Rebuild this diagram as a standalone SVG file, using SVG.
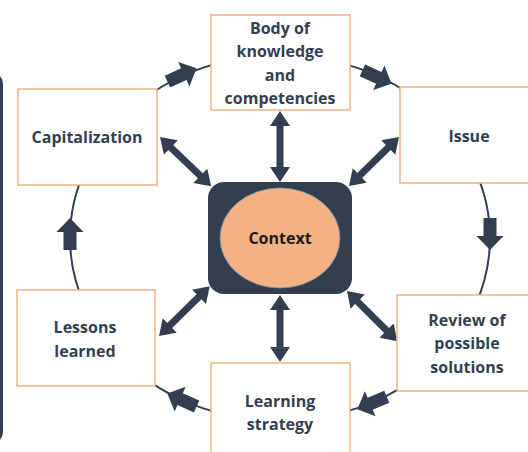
<svg xmlns="http://www.w3.org/2000/svg" width="528" height="452" viewBox="0 0 528 452">
<style>
.box{fill:#fff;stroke:#F4B183;stroke-width:1.5}
.lbl{font-family:"Open Sans","Liberation Sans",sans-serif;font-weight:bold;font-size:16px;fill:#333F50;text-anchor:middle}
.dark{fill:#333F50}
.arc{fill:none;stroke:#333F50;stroke-width:2}
</style>
<defs>
<path id="fat" d="M-16,-6.5 L2,-6.5 L2,-13.5 L16,0 L2,13.5 L2,6.5 L-16,6.5 Z"/>
</defs>
<rect width="528" height="452" fill="#fff"/>
<rect x="-20" y="72" width="23" height="372" rx="12" class="dark"/>
<g id="connectors">
<ellipse cx="280" cy="238" rx="210" ry="183" class="arc"/>
<use href="#fat" class="dark" transform="translate(182,75) rotate(-24.5)"/>
<use href="#fat" class="dark" transform="translate(377,77) rotate(24.5)"/>
<use href="#fat" class="dark" transform="translate(490,234) rotate(90)"/>
<use href="#fat" class="dark" transform="translate(372,403) rotate(157)"/>
<use href="#fat" class="dark" transform="translate(182,400) rotate(-156)"/>
<use href="#fat" class="dark" transform="translate(70,234) rotate(-90)"/>
<path class="dark" transform="translate(280,111) rotate(90)" d="M0,0 L15,-10 L15,-3.5 L56,-3.5 L56,-10 L71,0 L56,10 L56,3.5 L15,3.5 L15,10 Z"/>
<path class="dark" transform="translate(280,295) rotate(90)" d="M0,0 L15,-10 L15,-3.5 L52,-3.5 L52,-10 L67,0 L52,10 L52,3.5 L15,3.5 L15,10 Z"/>
<path class="dark" transform="translate(160,137) rotate(43.9)" d="M0,0 L15,-10 L15,-3.5 L56,-3.5 L56,-10 L71,0 L56,10 L56,3.5 L15,3.5 L15,10 Z"/>
<path class="dark" transform="translate(349,186) rotate(-44.4)" d="M0,0 L15,-10 L15,-3.5 L55,-3.5 L55,-10 L70,0 L55,10 L55,3.5 L15,3.5 L15,10 Z"/>
<path class="dark" transform="translate(159,336) rotate(-44.4)" d="M0,0 L15,-10 L15,-3.5 L56,-3.5 L56,-10 L71,0 L56,10 L56,3.5 L15,3.5 L15,10 Z"/>
<path class="dark" transform="translate(347,291) rotate(45)" d="M0,0 L15,-10 L15,-3.5 L56,-3.5 L56,-10 L71,0 L56,10 L56,3.5 L15,3.5 L15,10 Z"/>
</g>
<g id="context">
<rect x="208" y="182" width="144" height="112" rx="16" class="dark"/>
<ellipse cx="280" cy="238" rx="60" ry="50" fill="#F4B183" stroke="#6F8FB0" stroke-width="0.8"/>
<text x="280" y="244" class="lbl" style="fill:#1B1B1B">Context</text>
</g>
<g id="body">
<rect x="211" y="15" width="139" height="95" class="box"/>
<text class="lbl"><tspan x="280" y="34">Body of</tspan><tspan x="280" y="57">knowledge</tspan><tspan x="280" y="81">and</tspan><tspan x="280" y="104">competencies</tspan></text>
</g>
<g id="issue">
<rect x="400" y="87" width="140" height="96" class="box"/>
<text x="469" y="142" class="lbl">Issue</text>
</g>
<g id="review">
<rect x="397" y="295" width="140" height="96" class="box"/>
<text class="lbl"><tspan x="467" y="326">Review of</tspan><tspan x="467" y="349">possible</tspan><tspan x="467" y="373">solutions</tspan></text>
</g>
<g id="learning">
<rect x="211" y="363" width="139" height="96" class="box"/>
<text class="lbl"><tspan x="280" y="407">Learning</tspan><tspan x="280" y="430">strategy</tspan></text>
</g>
<g id="lessons">
<rect x="17" y="290" width="138" height="96" class="box"/>
<text class="lbl"><tspan x="85" y="333">Lessons</tspan><tspan x="85" y="357">learned</tspan></text>
</g>
<g id="capitalization">
<rect x="18" y="89" width="139" height="96" class="box"/>
<text x="87" y="143" class="lbl">Capitalization</text>
</g>
</svg>
